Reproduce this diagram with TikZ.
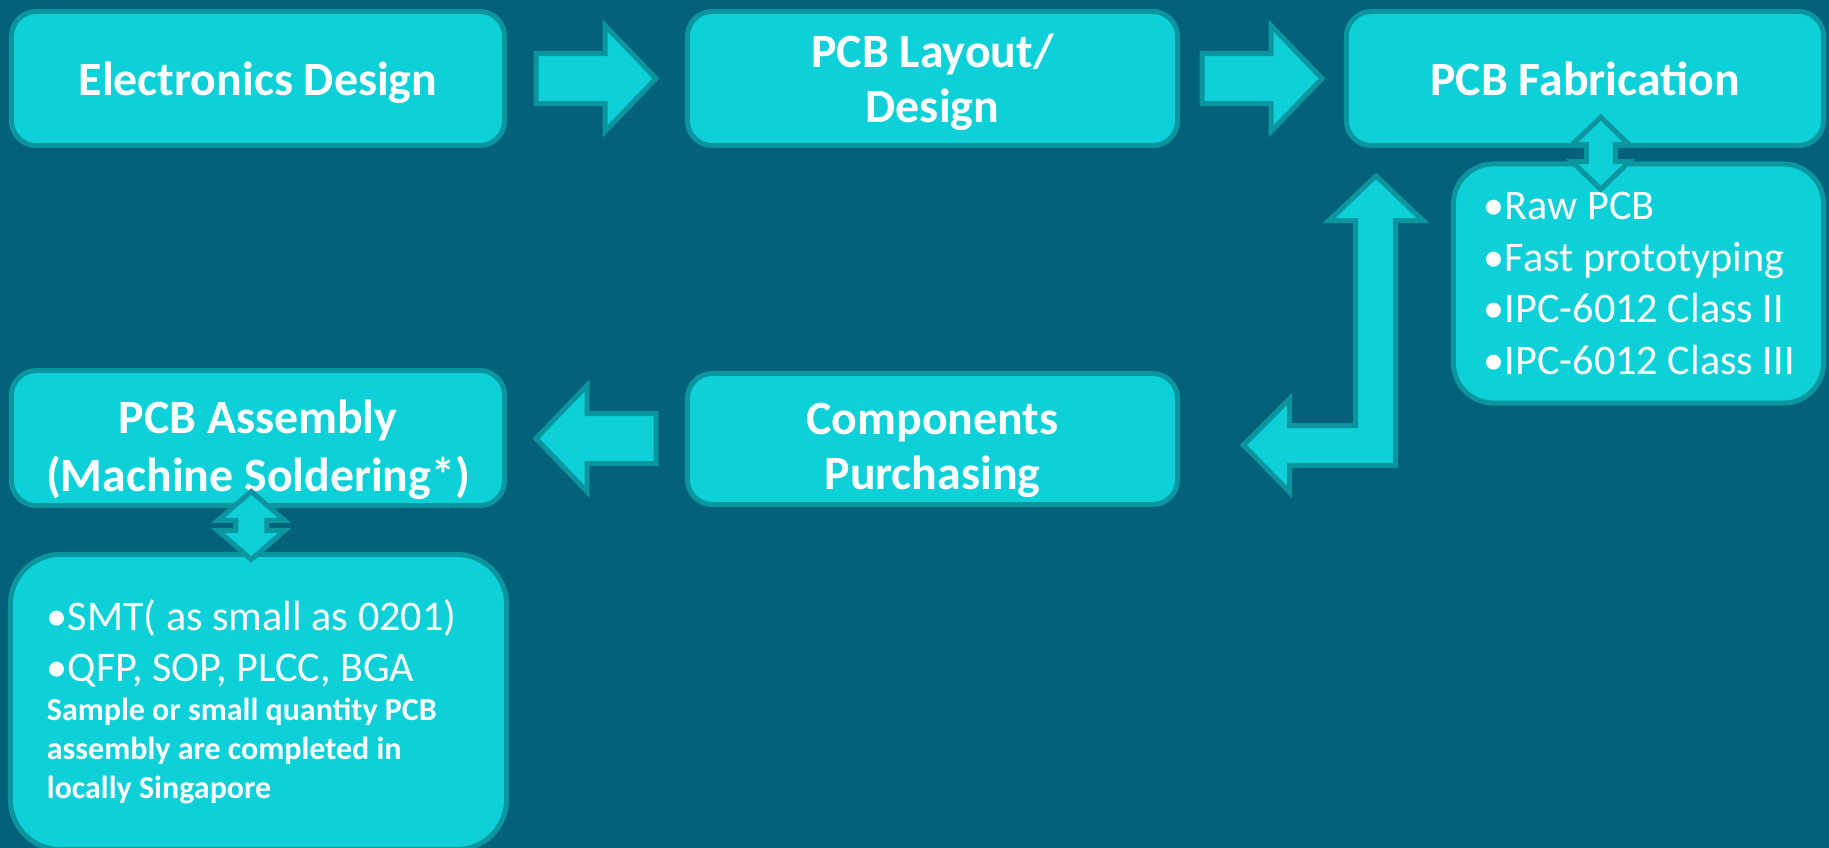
\documentclass[tikz,border=0pt]{standalone}
\usepackage{fontspec}
\setmainfont{Carlito}
\usetikzlibrary{calc}
\definecolor{bgteal}{HTML}{03617A}
\definecolor{boxcyan}{HTML}{0DD0D9}
\definecolor{boxedge}{HTML}{0B959E}

\begin{document}
\begin{tikzpicture}[x=0.01cm,y=-0.01cm]
\tikzstyle{stage}=[draw=boxedge,fill=boxcyan,line width=0.05cm,rounded corners=0.25cm,text=white,align=center,inner sep=0pt,text depth=0pt,font=\fontsize{13.6}{15.6}\selectfont\bfseries]
\tikzstyle{info}=[draw=boxedge,fill=boxcyan,line width=0.05cm,text=white,align=flush left,inner sep=0pt,font=\fontsize{12}{14.7}\selectfont]
\tikzstyle{blockarrow}=[draw=boxedge,fill=boxcyan,line width=0.05cm,line join=miter]
\fill[bgteal] (0,0) rectangle (1829,848);
\useasboundingbox (0,0) rectangle (1829,848);
% process boxes
\node[stage,minimum width=4.93cm,minimum height=1.34cm] (elec) at (258,78.5) {Electronics Design};
\node[stage,minimum width=4.90cm,minimum height=1.34cm] (layout) at (932.5,78.5) {PCB Layout/\\Design};
\node[stage,minimum width=4.77cm,minimum height=1.34cm] (fab) at (1585,78.5) {PCB Fabrication};
\node[info,minimum width=3.70cm,minimum height=2.39cm,text width=3.09cm,rounded corners=0.4cm] (fablist) at (1638.5,283.5)
	{\mbox{•Raw PCB}\\\mbox{•Fast prototyping}\\\mbox{•IPC-6012 Class II}\\\mbox{•IPC-6012 Class III}};
\node[stage,minimum width=4.90cm,minimum height=1.31cm,text height=28.6pt] (purch) at (932.5,439) {Components\\Purchasing};
\node[stage,minimum width=4.93cm,minimum height=1.35cm,text height=30.2pt,font=\fontsize{13.6}{16.3}\selectfont\bfseries] (asm) at (258,438) {PCB Assembly\\(Machine Soldering*)};
\node[info,minimum width=4.96cm,minimum height=2.95cm,text width=4.23cm,rounded corners=0.5cm] (smtlist) at (258.5,702)
	{{\fontsize{12}{14.5}\selectfont \mbox{•SMT( as small as 0201)}\\\mbox{•QFP, SOP, PLCC, BGA}\par}
	{\fontsize{9.1}{11.1}\selectfont\bfseries \mbox{Sample or small quantity PCB}\\\mbox{assembly are completed in}\\\mbox{locally Singapore}\par}};
% block arrows
\foreach \from/\to/\dir in {elec/layout/1, layout/fab/1, asm/purch/-1}
	\draw[blockarrow,shift={($(\from.east)!0.5!(\to.west)$)},xscale=\dir]
		(-60,-25) -- (9,-25) -- (9,-53) -- (60,0) -- (9,53) -- (9,25) -- (-60,25) -- cycle;
\foreach \from/\to/\dx/\dy/\tp/\hw/\sw/\nh in {fab/fablist/-11/-1.5/36/28.5/14.5/8.5, asm/smtlist/-7/-4.5/34/33.5/15.5/5}
	\draw[blockarrow,shift={($(\from.south)!0.5!(\to.north)+(\dx,\dy)$)}]
		(0,-\tp) -- (\hw,-\nh) -- (\sw,-\nh) -- (\sw,\nh) -- (\hw,\nh) -- (0,\tp)
		-- (-\hw,\nh) -- (-\sw,\nh) -- (-\sw,-\nh) -- (-\hw,-\nh) -- cycle;
\draw[blockarrow] (1376,176) -- (1423,220.5) -- (1395.5,220.5) -- (1395.5,465.5) -- (1289.5,465.5)
	-- (1289.5,492) -- (1243.5,445) -- (1289.5,399) -- (1289.5,425.5) -- (1355.5,425.5)
	-- (1355.5,220.5) -- (1329,220.5) -- cycle;
\end{tikzpicture}
\end{document}
